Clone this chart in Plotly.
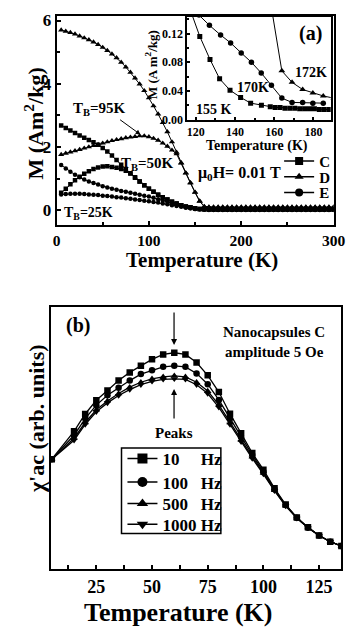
import plotly.graph_objects as go

W, H = 358, 627
FONT = "Liberation Serif"

# ---------------- Panel (a) main: M vs T (FC / ZFC) ----------------
T_main = list(range(5, 305, 5))

D_FC = [5.70, 5.66, 5.62, 5.57, 5.51, 5.45, 5.39, 5.32, 5.24, 5.15,
        5.05, 4.94, 4.82, 4.68, 4.53, 4.36, 4.18, 3.99, 3.78, 3.55,
        3.30, 3.04, 2.77, 2.48, 2.16, 1.83, 1.50, 1.18, 0.87, 0.57,
        0.29, 0.12, 0.10, 0.10, 0.10, 0.10, 0.10, 0.10, 0.10, 0.10,
        0.10, 0.10, 0.10, 0.10, 0.10, 0.10, 0.10, 0.10, 0.10, 0.10,
        0.10, 0.10, 0.10, 0.10, 0.10, 0.10, 0.10, 0.10, 0.10, 0.10]
D_ZFC = [1.76, 1.80, 1.84, 1.88, 1.92, 1.96, 2.00, 2.04, 2.08, 2.12,
         2.16, 2.20, 2.23, 2.26, 2.29, 2.31, 2.33, 2.35, 2.35, 2.32,
         2.27, 2.21, 2.12, 2.02, 1.90, 1.78, 1.49, 1.17, 0.86, 0.56,
         0.28, 0.11, 0.09, 0.09, 0.09, 0.09, 0.09, 0.09, 0.09, 0.09,
         0.09, 0.09, 0.09, 0.09, 0.09, 0.09, 0.09, 0.09, 0.09, 0.09,
         0.09, 0.09, 0.09, 0.09, 0.09, 0.09, 0.09, 0.09, 0.09, 0.09]
C_FC = [2.68, 2.60, 2.52, 2.44, 2.36, 2.29, 2.22, 2.15, 2.07, 1.97,
        1.86, 1.73, 1.59, 1.44, 1.30, 1.17, 1.04, 0.91, 0.79, 0.68,
        0.58, 0.49, 0.41, 0.34, 0.27, 0.21, 0.16, 0.12, 0.09, 0.06,
        0.04, 0.03, 0.03, 0.02, 0.02, 0.02, 0.02, 0.02, 0.02, 0.02,
        0.02, 0.02, 0.02, 0.02, 0.02, 0.02, 0.02, 0.02, 0.02, 0.02,
        0.02, 0.02, 0.02, 0.02, 0.02, 0.02, 0.02, 0.02, 0.02, 0.02]
C_ZFC = [0.55, 0.68, 0.82, 0.95, 1.06, 1.15, 1.23, 1.30, 1.35, 1.38,
         1.39, 1.37, 1.34, 1.30, 1.25, 1.16, 1.03, 0.91, 0.79, 0.68,
         0.58, 0.49, 0.41, 0.34, 0.27, 0.21, 0.16, 0.12, 0.09, 0.06,
         0.04, 0.03, 0.02, 0.02, 0.02, 0.02, 0.02, 0.02, 0.02, 0.02,
         0.02, 0.02, 0.02, 0.02, 0.02, 0.02, 0.02, 0.02, 0.02, 0.02,
         0.02, 0.02, 0.02, 0.02, 0.02, 0.02, 0.02, 0.02, 0.02, 0.02]
E_FC = [1.43, 1.32, 1.22, 1.12, 1.04, 0.97, 0.91, 0.86, 0.81, 0.76,
        0.72, 0.68, 0.65, 0.61, 0.58, 0.55, 0.52, 0.49, 0.46, 0.43,
        0.39, 0.35, 0.31, 0.26, 0.22, 0.17, 0.13, 0.09, 0.06, 0.04,
        0.03, 0.02, 0.02, 0.02, 0.02, 0.02, 0.02, 0.02, 0.02, 0.02,
        0.02, 0.02, 0.02, 0.02, 0.02, 0.02, 0.02, 0.02, 0.02, 0.02,
        0.02, 0.02, 0.02, 0.02, 0.02, 0.02, 0.02, 0.02, 0.02, 0.02]
E_ZFC = [0.50, 0.51, 0.52, 0.52, 0.52, 0.51, 0.50, 0.49, 0.48, 0.46,
         0.45, 0.43, 0.41, 0.40, 0.38, 0.36, 0.34, 0.32, 0.30, 0.28,
         0.26, 0.24, 0.21, 0.19, 0.16, 0.13, 0.11, 0.08, 0.06, 0.04,
         0.03, 0.02, 0.01, 0.01, 0.01, 0.01, 0.01, 0.01, 0.01, 0.01,
         0.01, 0.01, 0.01, 0.01, 0.01, 0.01, 0.01, 0.01, 0.01, 0.01,
         0.01, 0.01, 0.01, 0.01, 0.01, 0.01, 0.01, 0.01, 0.01, 0.01]
sample_names = ["C", "D", "E"]

# ---------------- Panel (a) inset ----------------
Ti_C = [117.0, 122.1, 127.3, 132.2, 137.5, 142.9, 148.0, 153.5, 158.0, 160.5,
        163.0, 165.5, 168.0, 170.5, 173.0, 175.5, 178.0, 180.5, 183.0, 185.5, 188.0]
Mi_C = [0.155, 0.116, 0.084, 0.057, 0.041, 0.031, 0.023, 0.020, 0.018, 0.017,
        0.017, 0.016, 0.016, 0.016, 0.015, 0.015, 0.015, 0.015, 0.014, 0.014, 0.014]
Ti_E = [116.4, 121.7, 127.0, 132.7, 137.8, 143.2, 148.4, 153.4, 158.6, 163.9,
        169.1, 174.5, 179.7, 185.0]
Mi_E = [0.160, 0.146, 0.1315, 0.118, 0.107, 0.093, 0.080, 0.065, 0.048, 0.030,
        0.024, 0.024, 0.023, 0.023]
Ti_D = [153.3, 158.6, 163.9, 169.1, 174.5, 179.7, 185.0, 190.3]
Mi_D = [0.40, 0.156, 0.068, 0.052, 0.042, 0.037, 0.033, 0.030]

# ---------------- Panel (b): chi'ac vs T ----------------
T_b = [5, 15, 20, 25, 30, 35, 40, 45, 50, 55, 60, 65, 70, 75, 80, 85, 90,
       95, 100, 105, 110, 115, 120, 125, 130, 135]
chi_10 = [1.117, 1.40, 1.577, 1.717, 1.817, 1.917, 2.00, 2.067, 2.133, 2.183,
          2.20, 2.183, 2.10, 1.97, 1.80, 1.58, 1.38, 1.18, 1.01, 0.82,
          0.655, 0.523, 0.423, 0.34, 0.277, 0.233]
chi_100 = [1.117, 1.36, 1.53, 1.667, 1.767, 1.843, 1.917, 1.983, 2.023, 2.057,
           2.067, 2.057, 1.99, 1.88, 1.72, 1.53, 1.34, 1.16, 0.99, 0.81,
           0.65, 0.52, 0.42, 0.34, 0.277, 0.233]
chi_500 = [1.117, 1.33, 1.49, 1.62, 1.71, 1.785, 1.85, 1.90, 1.935, 1.955,
           1.965, 1.955, 1.90, 1.81, 1.67, 1.49, 1.31, 1.14, 0.975, 0.80,
           0.645, 0.52, 0.42, 0.34, 0.277, 0.233]
chi_1000 = [1.117, 1.31, 1.47, 1.60, 1.69, 1.765, 1.825, 1.875, 1.91, 1.93,
            1.935, 1.93, 1.875, 1.785, 1.645, 1.47, 1.295, 1.125, 0.965, 0.795,
            0.64, 0.515, 0.42, 0.34, 0.277, 0.233]
freq_labels = ["10\u00a0\u00a0\u00a0\u00a0\u00a0Hz", "100\u00a0\u00a0\u00a0Hz",
               "500\u00a0\u00a0\u00a0Hz", "1000\u00a0Hz"]


def P(px, py):
    return px / W, 1 - py / H


fig = go.Figure()
ln = dict(color="black", width=1)

# main panel traces
main_series = [(C_FC, "square", 4.5), (C_ZFC, "square", 4.5),
               (D_FC, "triangle-up", 5.5), (D_ZFC, "triangle-up", 5.5),
               (E_FC, "circle", 4.5), (E_ZFC, "circle", 4.5)]
for ys, sym, sz in main_series:
    fig.add_trace(go.Scatter(x=T_main, y=ys, mode="lines+markers", xaxis="x", yaxis="y",
                             line=ln, marker=dict(symbol=sym, size=sz, color="black"),
                             showlegend=False))

# legend entries for panel (a): one small legend per row
legend_layout = {}
top_rows = [160, 176, 192]
for i, (name, sym) in enumerate(zip(sample_names, ["square", "triangle-up", "circle"])):
    key = "legend" if i == 0 else f"legend{i + 2}"
    fig.add_trace(go.Scatter(x=[None], y=[None], mode="lines+markers", xaxis="x", yaxis="y",
                             name=name, line=dict(color="black", width=1.5),
                             marker=dict(symbol=sym, size=8, color="black"), legend=key))
    legend_layout[key] = dict(x=288 / W, y=1 - top_rows[i] / H, xanchor="left", yanchor="middle",
                              bgcolor="rgba(0,0,0,0)", borderwidth=0,
                              font=dict(size=15, family=FONT, weight="bold"),
                              itemwidth=30, tracegroupgap=0)

# inset traces
for tx, my, sym, sz in [(Ti_C, Mi_C, "square", 5), (Ti_E, Mi_E, "circle", 5.5),
                        (Ti_D, Mi_D, "triangle-up", 6)]:
    fig.add_trace(go.Scatter(x=tx, y=my, mode="lines+markers", xaxis="x2", yaxis="y2",
                             line=ln, marker=dict(symbol=sym, size=sz, color="black"),
                             showlegend=False))

# panel b traces + legend rows
bot_rows = [463, 487, 509, 530]
for i, (ys, name, sym) in enumerate([(chi_10, freq_labels[0], "square"),
                                     (chi_100, freq_labels[1], "circle"),
                                     (chi_500, freq_labels[2], "triangle-up"),
                                     (chi_1000, freq_labels[3], "triangle-down")]):
    fig.add_trace(go.Scatter(x=T_b, y=ys, mode="lines+markers", xaxis="x3", yaxis="y3",
                             line=dict(color="black", width=1.3),
                             marker=dict(symbol=sym, size=6.5, color="black"),
                             showlegend=False))
    key = f"legend{i + 5}"
    fig.add_trace(go.Scatter(x=[None], y=[None], mode="lines+markers", xaxis="x3", yaxis="y3",
                             name=name, line=dict(color="black", width=1.5),
                             marker=dict(symbol=sym, size=10, color="black"), legend=key))
    legend_layout[key] = dict(x=124 / W, y=1 - bot_rows[i] / H, xanchor="left", yanchor="middle",
                              bgcolor="rgba(0,0,0,0)", borderwidth=0,
                              font=dict(size=17, family=FONT, weight="bold"),
                              itemwidth=30, tracegroupgap=0)

axis_common = dict(showline=True, linecolor="black", linewidth=2, mirror=True,
                   ticks="inside", tickcolor="black", tickwidth=1.5, showgrid=False,
                   zeroline=False)

fig.update_layout(
    width=W, height=H, margin=dict(l=0, r=0, t=0, b=0),
    paper_bgcolor="white", plot_bgcolor="white",
    font=dict(family=FONT, color="black", weight="bold"),
    xaxis=dict(domain=[55 / W, 345 / W], anchor="y", range=[0, 300], dtick=100,
               ticklen=4, minor=dict(dtick=50, ticks="inside", ticklen=3, tickcolor="black"),
               tickfont=dict(size=15.5, family=FONT, weight="bold"), **axis_common),
    yaxis=dict(domain=[1 - 225 / H, 1 - 12 / H], anchor="x", range=[-0.47, 6.15], dtick=2,
               ticklen=4, minor=dict(dtick=1, ticks="inside", ticklen=3, tickcolor="black"),
               tickfont=dict(size=17, family=FONT, weight="bold"), **axis_common),
    xaxis2=dict(domain=[192 / W, 342 / W], anchor="y2", range=[115.8, 188.8], dtick=20,
                tick0=0, ticklen=3, minor=dict(dtick=10, ticks="inside", ticklen=2, tickcolor="black"),
                tickfont=dict(size=12, family=FONT, weight="bold"), **axis_common),
    yaxis2=dict(domain=[1 - 117.7 / H, 1 - 13 / H], anchor="x2", range=[0, 0.1434], dtick=0.04,
                tickformat=".2f", ticklen=3,
                minor=dict(dtick=0.02, ticks="inside", ticklen=2, tickcolor="black"),
                tickfont=dict(size=12, family=FONT, weight="bold"), **axis_common),
    xaxis3=dict(domain=[49.3 / W, 352.7 / W], anchor="y3", range=[4.7, 134.8], dtick=25,
                tick0=0, ticklen=4, minor=dict(dtick=12.5, ticks="inside", ticklen=4, tickcolor="black"),
                tickfont=dict(size=18, family=FONT, weight="bold"), **axis_common),
    yaxis3=dict(domain=[1 - 575 / H, 1 - 308 / H], anchor="x3", range=[0, 2.67],
                showticklabels=False, showline=True, linecolor="black", linewidth=2,
                mirror=True, ticks="", showgrid=False, zeroline=False),
    **legend_layout,
)

# frame around the panel (b) legend
x0, y1 = P(123, 452)
x1, y0 = P(227, 539)
fig.add_shape(type="rect", xref="paper", yref="paper", x0=x0, x1=x1, y0=y0, y1=y1,
              line=dict(color="black", width=1.5), fillcolor="rgba(0,0,0,0)")

ann = []


def txt(px, py, text, size, angle=0, xanchor="center"):
    x, y = P(px, py)
    ann.append(dict(x=x, y=y, xref="paper", yref="paper", text=text, showarrow=False,
                    textangle=angle, xanchor=xanchor, yanchor="middle",
                    font=dict(size=size, family=FONT, color="black", weight="bold")))


def arrow(tipx, tipy, tailx, taily, width=1.2):
    x, y = P(tipx, tipy)
    ann.append(dict(x=x, y=y, xref="paper", yref="paper", text="", showarrow=True,
                    ax=tailx - tipx, ay=taily - tipy, arrowhead=2, arrowsize=1,
                    arrowwidth=width, arrowcolor="black"))


# panel a texts
txt(207, 261, "Temperature (K)", 21)
txt(31, 122, "M (Am<sup>2</sup>/kg)", 22, angle=-90)
txt(321, 30, "(a)", 20)
txt(265, 145, "Temperature (K)", 14)
txt(154, 62, "M (A m<sup>2</sup>/kg)", 13, angle=-90)
txt(220, 107, "155 K", 14)
txt(261, 85, "170K", 14)
txt(321, 70, "172K", 14)
txt(100, 107, "T<sub>B</sub>=95K", 15)
txt(150, 163, "T<sub>B</sub>=50K", 15)
txt(88, 213, "T<sub>B</sub>=25K", 14)
txt(247, 173, "μ<sub>0</sub>H= 0.01 T", 16)
arrow(143, 133, 121, 117, width=1)

# panel b texts
txt(77, 327, "(b)", 20)
txt(283, 334, "Nanocapsules C", 15)
txt(283, 354, "amplitude 5 Oe", 15)
txt(178, 437, "Peaks", 15)
txt(182, 619, "Temperature (K)", 26)
txt(34, 422, "χ'ac (arb. units)", 22, angle=-90)
arrow(178, 347, 178, 313)
arrow(178, 392, 178, 423)

fig.update_layout(annotations=ann)
fig.write_html("out.html")
